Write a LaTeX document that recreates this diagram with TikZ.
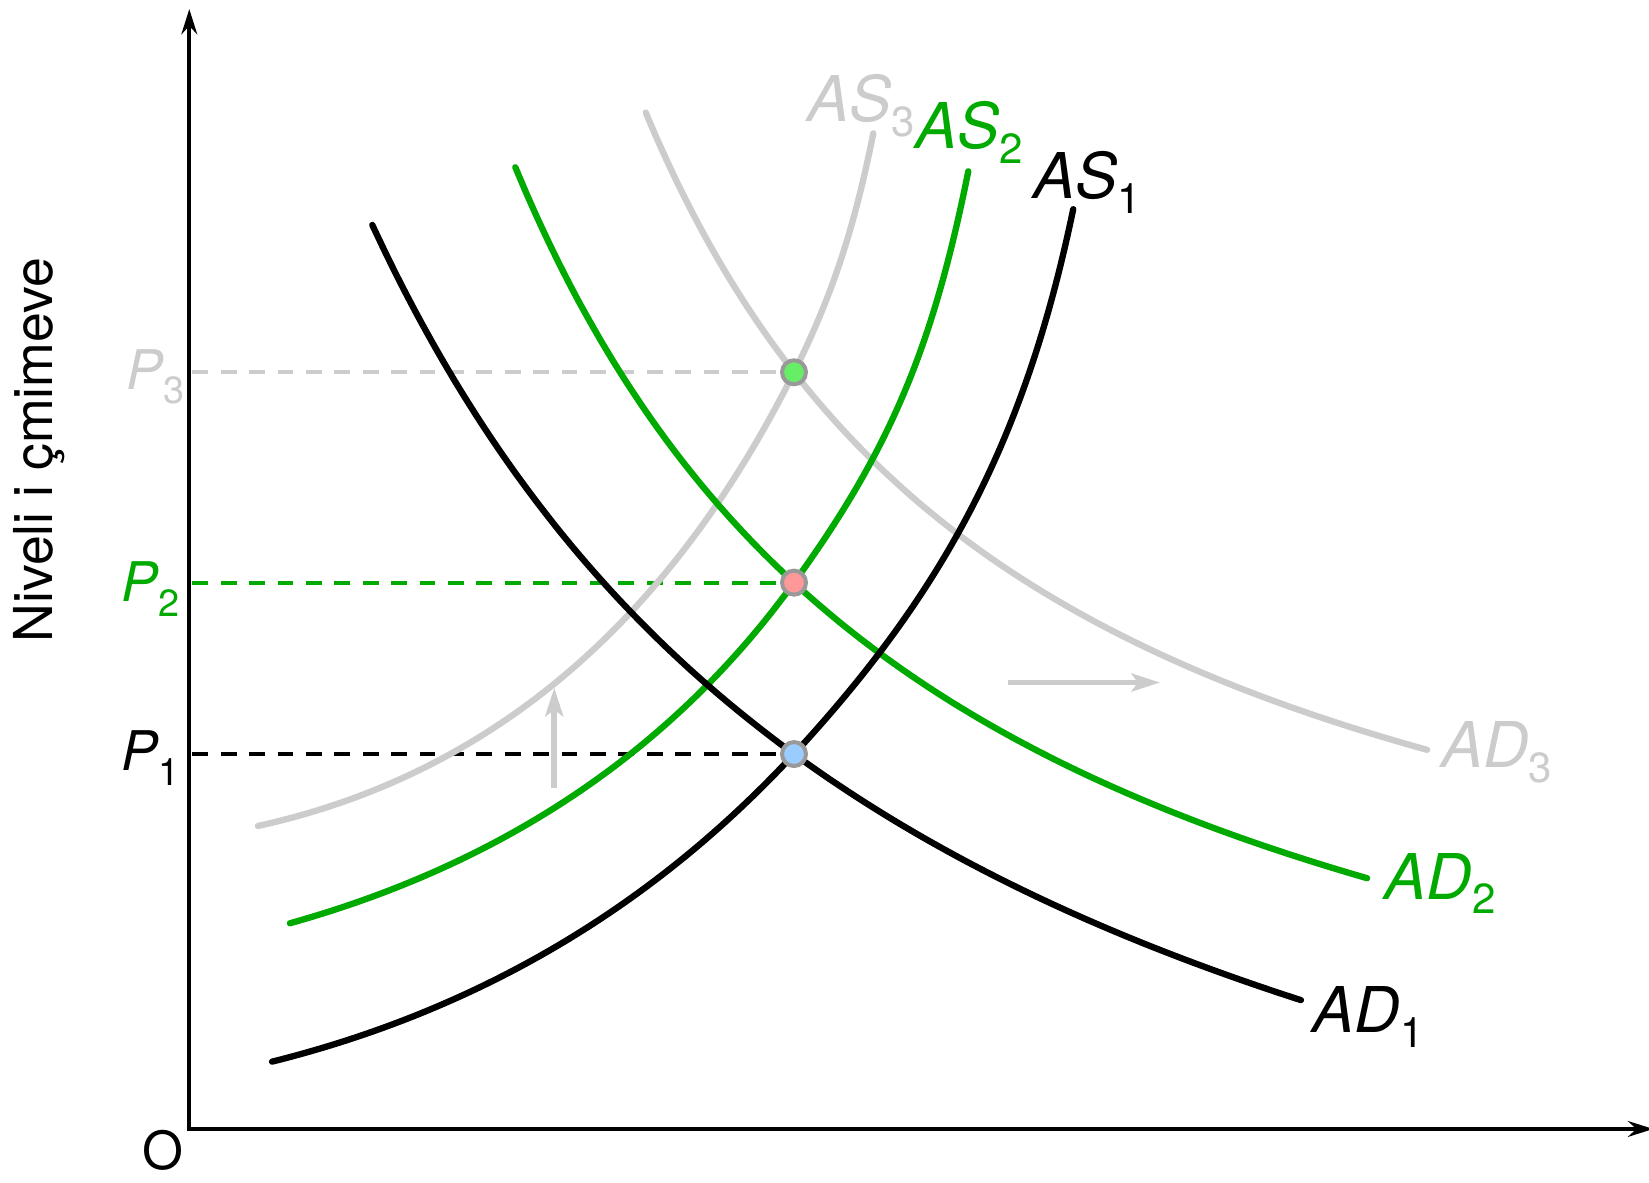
\documentclass[tikz,border=0pt]{standalone}
\usepackage{fontspec}
\setmainfont{TeX Gyre Heros}
\usetikzlibrary{arrows.meta}
\definecolor{cgreen}{RGB}{0,170,0}
\definecolor{cgray}{RGB}{204,204,204}
\definecolor{dgreen}{RGB}{102,238,102}
\definecolor{dpink}{RGB}{255,153,153}
\definecolor{dblue}{RGB}{153,204,255}
\definecolor{dring}{RGB}{153,153,153}
\newcommand\clab[2]{\textit{#1}\raisebox{-7pt}{\fontsize{20}{20}\selectfont #2}}
\newcommand\plab[2]{\textit{#1}\raisebox{-7pt}{\fontsize{18}{18}\selectfont #2}}
\begin{document}
\begin{tikzpicture}[x=0.5pt,y=-0.5pt,
  curve/.style={line width=3pt, line cap=round},
  axisline/.style={line width=1.9pt, {Stealth[length=12pt,width=7.5pt,inset=4pt]}-{Stealth[length=12pt,width=7.5pt,inset=4pt]}},
  guide/.style={line width=1.9pt, dash pattern=on 7.5pt off 6pt},
  eq/.style={circle, draw=dring, line width=1.9pt, minimum size=11.4pt, inner sep=0pt},
  shiftarrow/.style={cgray, line width=2.8pt, -{Stealth[length=13.5pt,width=8.5pt,inset=3pt]}},
  lab/.style={anchor=base west, inner sep=0pt, font=\fontsize{30}{30}\selectfont},
  pl/.style={anchor=base west, inner sep=0pt, font=\fontsize{26}{26}\selectfont},
]
\useasboundingbox (0,0) rectangle (1568,1124);

% axes
\coordinate (ytop) at (180,8.6);
\coordinate (orig) at (180,1073.5);
\coordinate (xend) at (1572,1073.5);
\draw[axisline] (ytop) -- (orig) -- (xend);
\node[font=\fontsize{25}{25}\selectfont, inner sep=0pt] (Olab) at (155,1094) {O};
\node[rotate=90, font=\fontsize{25.5}{25.5}\selectfont, inner sep=0pt] (ylab) at (37,428) {Niveli i çmimeve};

% equilibrium points
\coordinate (E3c) at (755,354);
\coordinate (E2c) at (755,554);
\coordinate (E1c) at (755,717);
\coordinate (A3) at (183,354);
\coordinate (A2) at (183,554);
\coordinate (A1) at (183,717);

% guide lines
\draw[guide, cgray] (A3) -- (E3c);
\draw[guide, cgreen] (A2) -- (E2c);
\draw[guide, black] (A1) -- (E1c);

% gray curves
\draw[curve, cgray] (245.2,785.4) .. controls (465.5,736.9) and (635.5,593.1) .. (E3c)
  .. controls (790.9,282.1) and (812,218.5) .. (830.4,126.8);
\draw[curve, cgray] plot[domain=614:1357, samples=80, smooth] (\x, {1025.8 - 352.37/((\x-230.5)/1000)});
% green curves
\draw[curve, cgreen] (275.7,877.9) .. controls (480.2,820.6) and (640,712.7) .. (E2c)
  .. controls (845.6,429) and (887,331.2) .. (920.7,162.9);
\draw[curve, cgreen] plot[domain=490:1300, samples=80, smooth] (\x, {1192.6 - 442.779/((\x-61.6)/1000)});
% black curves
\draw[curve, black] (258.7,1009.5) .. controls (454.2,960.6) and (619.7,863.1) .. (E1c)
  .. controls (901.4,558.9) and (975.7,413.8) .. (1020.5,198.9);
\draw[curve, black] plot[domain=354:1237, samples=80, smooth] (\x, {1416.3 - 670.3/((\x+203.5)/1000)});

% dots
\node[eq, fill=dgreen] (E3) at (E3c) {};
\node[eq, fill=dpink] (E2) at (E2c) {};
\node[eq, fill=dblue] (E1) at (E1c) {};

% shift arrows
\coordinate (u0) at (527,749);
\coordinate (u1) at (527,654);
\draw[shiftarrow] (u0) -- (u1);
\coordinate (r0) at (958,649);
\coordinate (r1) at (1103,649);
\draw[shiftarrow] (r0) -- (r1);

% labels
\node[lab, cgray] (AS3) at (767,116) {\clab{AS}{3}};
\node[lab, cgreen] (AS2) at (870,141) {\clab{AS}{2}};
\node[lab, black] (AS1) at (982,189) {\clab{AS}{1}};
\node[lab, cgray] (AD3) at (1370,730) {\clab{AD}{3}};
\node[lab, cgreen] (AD2) at (1316,855) {\clab{AD}{2}};
\node[lab, black] (AD1) at (1248,982) {\clab{AD}{1}};
\node[pl, cgray] (P3) at (120,370) {\plab{P}{3}};
\node[pl, cgreen] (P2) at (115,572) {\plab{P}{2}};
\node[pl, black] (P1) at (115,733) {\plab{P}{1}};
\end{tikzpicture}
\end{document}
